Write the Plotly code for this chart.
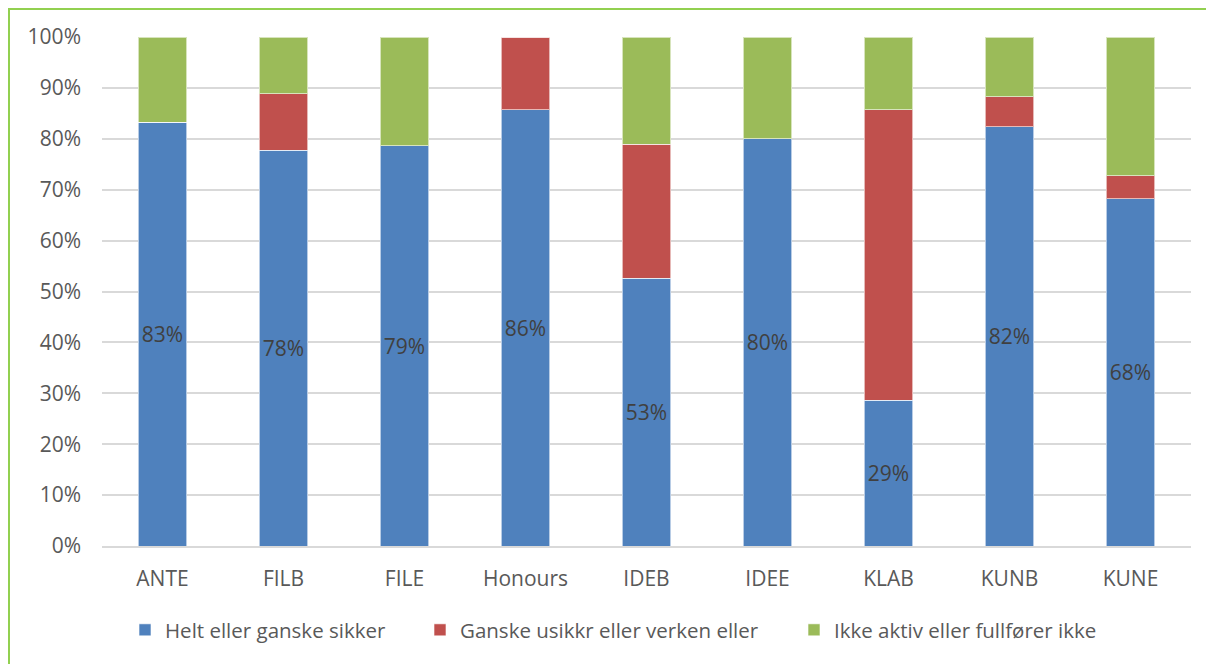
import plotly.graph_objects as go

categories = ["ANTE", "FILB", "FILE", "Honours", "IDEB", "IDEE", "KLAB", "KUNB", "KUNE"]
helt = [83.3, 77.8, 78.6, 85.7, 52.6, 80.0, 28.6, 82.4, 68.2]
ganske = [0.0, 11.1, 0.0, 14.3, 26.3, 0.0, 57.1, 5.9, 4.5]
ikke = [16.7, 11.1, 21.4, 0.0, 21.1, 20.0, 14.3, 11.7, 27.3]
series_names = ["Helt eller ganske sikker", "Ganske usikkr eller verken eller", "Ikke aktiv eller fullfører ikke"]
colors = ["#4F81BD", "#C0504D", "#9BBB59"]

font_family = "Open Sans, Noto Sans, sans-serif"
text_color = "#595959"

L, T, PW, PH = 94, 29, 1089, 509
W, H = 1214, 664

legend_x_px = [117, 412, 786]
legend_keys = ["legend", "legend2", "legend3"]

fig = go.Figure()
values = [helt, ganske, ikke]
for i in range(3):
    kw = {}
    if i == 0:
        kw = dict(text=[f"{round(v)}%" for v in helt], textposition="inside",
                  insidetextanchor="middle", textangle=0,
                  textfont=dict(color="#404040", size=21, family=font_family))
    fig.add_trace(go.Bar(
        x=categories, y=[v / 100 for v in values[i]], name=series_names[i],
        marker=dict(color=colors[i], line=dict(color="rgba(255,255,255,0.6)", width=1)),
        legend=legend_keys[i], showlegend=True, **kw))

legend_common = dict(orientation="h", yanchor="middle", y=-(622 - (T + PH)) / PH,
                     xanchor="left", font=dict(size=20.5, color=text_color, family=font_family),
                     bgcolor="rgba(0,0,0,0)", visible=True)

fig.update_layout(
    showlegend=True,
    barmode="stack",
    bargap=0.6,
    width=W, height=H,
    margin=dict(l=L, r=W - L - PW, t=T, b=H - T - PH),
    paper_bgcolor="white", plot_bgcolor="white",
    font=dict(family=font_family, size=21, color=text_color),
    uniformtext=dict(mode="show", minsize=8),
    legend=dict(x=(legend_x_px[0] - L) / PW, **legend_common),
    legend2=dict(x=(legend_x_px[1] - L) / PW, **legend_common),
    legend3=dict(x=(legend_x_px[2] - L) / PW, **legend_common),
    xaxis=dict(showgrid=False, showline=True, linecolor="#D9D9D9", linewidth=1.5,
               ticks="", ticklabelstandoff=13, tickfont=dict(size=21, color=text_color)),
    yaxis=dict(range=[0, 1], tickformat=".0%", dtick=0.1, showgrid=True,
               gridcolor="#D9D9D9", gridwidth=1.5, zeroline=False, showline=False,
               ticks="", ticklabelstandoff=20, tickfont=dict(size=21, color=text_color)),
    shapes=[dict(type="rect", xref="paper", yref="paper",
                 x0=-(L - 1) / PW, x1=1.2, y0=-0.4, y1=1 + (T - 1) / PH,
                 line=dict(color="#92D050", width=2), fillcolor="rgba(0,0,0,0)", layer="below")],
)

fig.write_html("out.html")
